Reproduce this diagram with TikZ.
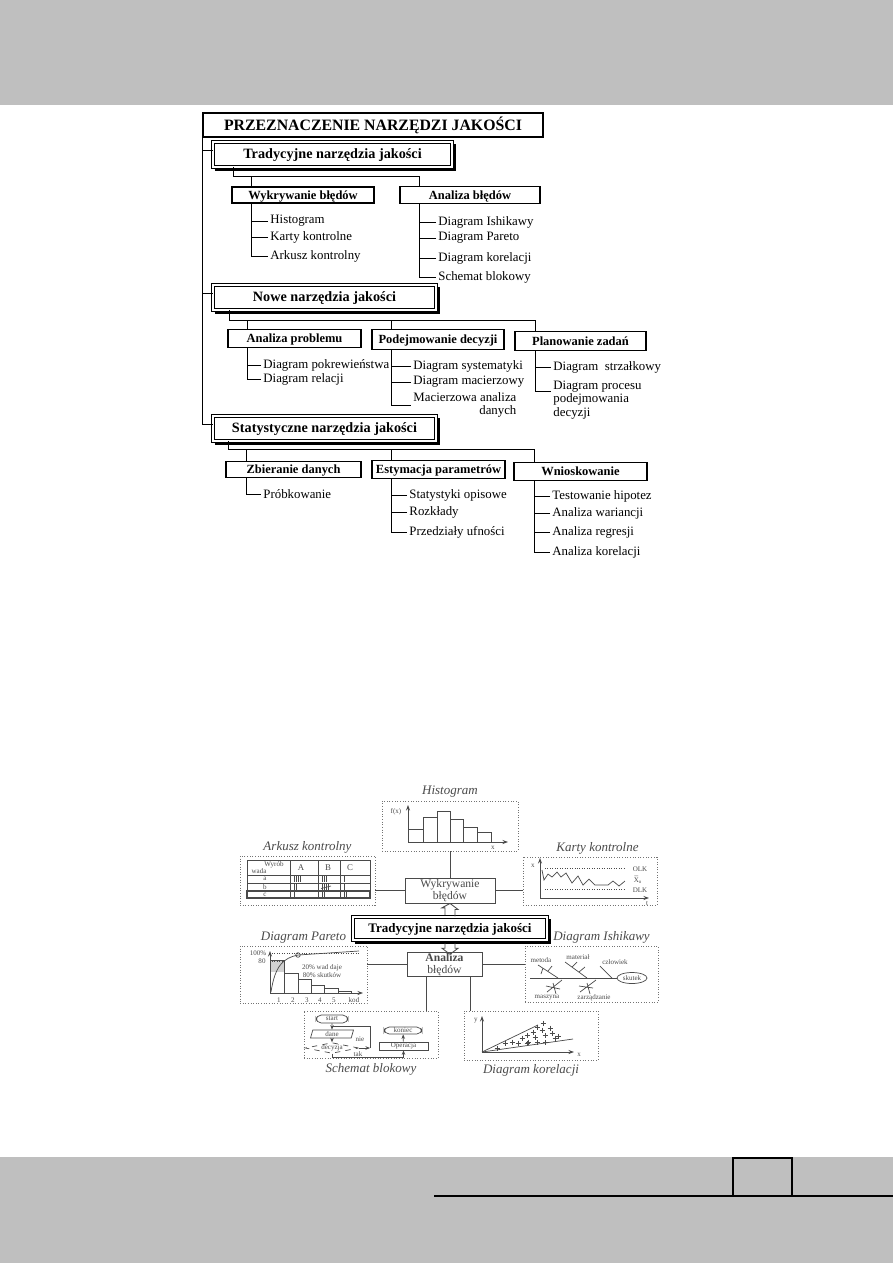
\documentclass[tikz,border=0pt]{standalone}
\usepackage{fontspec}
\setmainfont{Liberation Serif}
\usetikzlibrary{arrows.meta, positioning, calc, shapes.geometric}
\definecolor{bandgray}{HTML}{BFBFBF}
\definecolor{sketch}{HTML}{4A4A4A}
\tikzset{
  titlebox/.style={draw, line width=0.7pt, inner sep=0pt, minimum width=68mm, minimum height=4.8mm, text height=6.2pt, text depth=0.4pt, font=\bfseries\fontsize{9}{10}\selectfont},
  groupbox/.style={draw, double, double distance=1.1pt, line width=0.5pt, inner sep=0pt, minimum height=5mm, text height=5.6pt, text depth=0.5pt, font=\bfseries\fontsize{8.1}{9}\selectfont},
  shadowline/.style={line width=1.1pt},
  subbox/.style={draw, line width=0.6pt, inner sep=0pt, text height=4.9pt, text depth=0.3pt, font=\bfseries\fontsize{7.1}{8}\selectfont},
  leaf/.style={anchor=west, inner sep=1.2pt, font=\fontsize{7.3}{7.6}\selectfont},
  conn/.style={line width=0.5pt},
  toolbox/.style={draw=black!55, densely dotted, line width=0.5pt, inner sep=0pt},
  tooltitle/.style={font=\itshape\fontsize{7.4}{8}\selectfont, inner sep=0.5pt, text=sketch},
  centerbox/.style={draw=sketch, line width=0.5pt, inner sep=0pt, align=center, font=\fontsize{6.6}{6.8}\selectfont, text=sketch},
  minilbl/.style={font=\fontsize{4}{4.4}\selectfont, inner sep=0.3pt, text=sketch},
  sk/.style={line width=0.4pt, draw=sketch},
  axarr/.style={sk, -{Stealth[length=1.1mm, width=0.8mm]}},
  flbox/.style={draw=sketch, line width=0.4pt, inner sep=0pt, font=\fontsize{4}{4.4}\selectfont, text=sketch},
  flarr/.style={sk, -{Stealth[length=0.9mm, width=0.7mm]}},
}
\begin{document}
\begin{tikzpicture}[x=0.2mm, y=-0.2mm]
  \useasboundingbox (0,0) rectangle (893,1263);
  % page frame
  \fill[bandgray] (0,0) rectangle (893,105);
  \fill[bandgray] (0,1157) rectangle (893,1263);
  \draw[line width=0.8pt] (434,1196) -- (893,1196);
  \draw[line width=0.6pt] (733,1196) -- (733,1158) -- (792,1158) -- (792,1196);
  \draw[line width=1.4pt] (733,1158) -- (792,1158);

  % --- tree of tools ---
  \node[titlebox] (title) at (373,125) {PRZEZNACZENIE NARZĘDZI JAKOŚCI};
  \node[groupbox, minimum width=47.8mm] (trad) at (332.5,154.5) {Tradycyjne narzędzia jakości};
  \node[groupbox, minimum width=44.6mm] (nowe) at (324.5,297.5) {Nowe narzędzia jakości};
  \node[groupbox, minimum width=44.6mm] (stat) at (324.5,428.5) {Statystyczne narzędzia jakości};
  \node[groupbox, minimum width=38.8mm, minimum height=4.6mm, text height=5.2pt, text depth=0.5pt, font=\bfseries\fontsize{7.4}{8}\selectfont] (trad2) at (450,928.5) {Tradycyjne narzędzia jakości};
  \foreach \g in {trad,nowe,stat,trad2}
    \draw[shadowline] ([shift={(1.2pt,-1.5pt)}]\g.south west) -- ([shift={(1.5pt,-1.5pt)}]\g.south east) -- ([shift={(1.5pt,-1.2pt)}]\g.north east);

  \coordinate (brstat) at ([yshift=2.5pt]stat.west);
  \draw[conn] (title.south west) |- (brstat);
  \foreach \g in {trad,nowe} {
    \coordinate (br\g) at ([yshift=2.5pt]\g.west);
    \draw[conn] (br\g) -- (br\g -| title.west);
  }

  % traditional tools
  \node[subbox, minimum width=28.4mm, minimum height=3.2mm] (wyk) at (303,195) {Wykrywanie błędów};
  \node[subbox, minimum width=28mm, minimum height=3.4mm] (anb) at (470,195) {Analiza błędów};
  \coordinate (wykJ) at ([xshift=4mm]wyk.north west);
  \coordinate (anbJ) at ([xshift=4mm]anb.north west);
  \draw[conn] ([xshift=4.2mm]trad.south west) -- ++(0,9) coordinate (tradJ) -| (anbJ);
  \draw[conn] (wykJ |- tradJ) -- (wykJ);

  \node[leaf] (itHist) at (268,221) {Histogram};
  \node[leaf] (itKart) at (268,237) {Karty kontrolne};
  \node[leaf] (itArk) at (268,256) {Arkusz kontrolny};
  \draw[conn] (wykJ |- wyk.south) |- (itArk.west);
  \foreach \i in {itHist,itKart} \draw[conn] (\i.west) -- (\i.west -| wykJ);

  \node[leaf] (itIsh) at (436,222) {Diagram Ishikawy};
  \node[leaf] (itPar) at (436,238) {Diagram Pareto};
  \node[leaf] (itKor) at (436,258) {Diagram korelacji};
  \node[leaf] (itSch) at (436,277) {Schemat blokowy};
  \draw[conn] (anbJ |- anb.south) |- (itSch.west);
  \foreach \i in {itIsh,itPar,itKor} \draw[conn] (\i.west) -- (\i.west -| anbJ);

  % new tools
  \node[subbox, minimum width=26.6mm, minimum height=3.6mm] (anp) at (294.5,338.5) {Analiza problemu};
  \node[subbox, minimum width=26.4mm, minimum height=3.9mm] (pod) at (438,339.5) {Podejmowanie decyzji};
  \node[subbox, minimum width=26.2mm, minimum height=3.7mm] (plan) at (580.5,341) {Planowanie zadań};
  \coordinate (anpJ) at ([xshift=4mm]anp.north west);
  \coordinate (podJ) at ([xshift=4mm]pod.north west);
  \coordinate (planJ) at ([xshift=4.2mm]plan.north west);
  \draw[conn] ([xshift=3.4mm]nowe.south west) -- ++(0,10) coordinate (noweJ) -| (planJ);
  \foreach \j in {anpJ,podJ} \draw[conn] (\j |- noweJ) -- (\j);

  \node[leaf] (itPokr) at (261,365) {Diagram pokrewieństwa};
  \node[leaf] (itRel) at (261,379) {Diagram relacji};
  \draw[conn] (anpJ |- anp.south) |- (itRel.west);
  \draw[conn] (itPokr.west) -- (itPokr.west -| anpJ);

  \node[leaf] (itSys) at (411,366) {Diagram systematyki};
  \node[leaf] (itMac) at (411,382) {Diagram macierzowy};
  \node[leaf, align=right] (itMan) at (411,405) {Macierzowa analiza\\danych};
  \draw[conn] (podJ |- pod.south) |- (itMan.west);
  \foreach \i in {itSys,itMac} \draw[conn] (\i.west) -- (\i.west -| podJ);

  \node[leaf] (itStrz) at (551,367) {Diagram~~strzałkowy};
  \node[leaf, align=left] (itProc) at (551,400) {Diagram procesu\\podejmowania\\decyzji};
  \coordinate (procT) at ([yshift=5pt]itProc.west);
  \draw[conn] (planJ |- plan.south) |- (procT);
  \draw[conn] (itStrz.west) -- (itStrz.west -| planJ);

  % statistical tools
  \node[subbox, minimum width=27mm, minimum height=3.3mm] (zbi) at (293.5,469.5) {Zbieranie danych};
  \node[subbox, minimum width=26.6mm, minimum height=3.5mm] (est) at (438.5,469.5) {Estymacja parametrów};
  \node[subbox, minimum width=26.6mm, minimum height=3.5mm] (wni) at (580.5,471.5) {Wnioskowanie};
  \coordinate (zbiJ) at ([xshift=4.2mm]zbi.north west);
  \coordinate (estJ) at ([xshift=4mm]est.north west);
  \coordinate (wniJ) at ([xshift=4.2mm]wni.north west);
  \draw[conn] ([xshift=3.2mm]stat.south west) -- ++(0,8) coordinate (statJ) -| (wniJ);
  \foreach \j in {zbiJ,estJ} \draw[conn] (\j |- statJ) -- (\j);

  \node[leaf] (itProb) at (261,494) {Próbkowanie};
  \draw[conn] (zbiJ |- zbi.south) |- (itProb.west);

  \node[leaf] (itOpis) at (407,495) {Statystyki opisowe};
  \node[leaf] (itRozk) at (407,512) {Rozkłady};
  \node[leaf] (itPrzed) at (407,532) {Przedziały ufności};
  \draw[conn] (estJ |- est.south) |- (itPrzed.west);
  \foreach \i in {itOpis,itRozk} \draw[conn] (\i.west) -- (\i.west -| estJ);

  \node[leaf] (itTest) at (550,496) {Testowanie hipotez};
  \node[leaf] (itWar) at (550,513) {Analiza wariancji};
  \node[leaf] (itReg) at (550,532) {Analiza regresji};
  \node[leaf] (itKorel) at (550,552) {Analiza korelacji};
  \draw[conn] (wniJ |- wni.south) |- (itKorel.west);
  \foreach \i in {itTest,itWar,itReg} \draw[conn] (\i.west) -- (\i.west -| wniJ);

  % --- traditional tools in pictures ---
  \node[centerbox, minimum width=18mm, minimum height=5mm] (wykb) at (450,890.5) {Wykrywanie\\błędów};
  \node[centerbox, minimum width=15mm, minimum height=4.8mm] (anab) at (444.5,964.5) {\textbf{Analiza}\\błędów};

  \node[toolbox, minimum width=27.2mm, minimum height=10mm] (histo) at (450,826) {};
  \node[tooltitle, above=0.5mm of histo] (histoT) {Histogram};
  \node[toolbox, minimum width=27mm, minimum height=9.8mm] (ark) at (307.5,880.5) {};
  \node[tooltitle, above=0.3mm of ark] (arkT) {Arkusz kontrolny};
  \node[toolbox, minimum width=26.8mm, minimum height=9.6mm] (kart) at (590,881) {};
  \node[tooltitle, above=0.3mm of kart, xshift=1.5mm] (kartT) {Karty kontrolne};
  \node[toolbox, minimum width=25.4mm, minimum height=11.4mm] (par) at (303.5,974.5) {};
  \node[tooltitle, above=0.2mm of par] (parT) {Diagram Pareto};
  \node[toolbox, minimum width=26.6mm, minimum height=11.2mm] (ish) at (591.5,974) {};
  \node[tooltitle, above=0.2mm of ish, xshift=2mm] (ishT) {Diagram Ishikawy};
  \node[toolbox, minimum width=26.8mm, minimum height=9.4mm] (sch) at (371,1034.5) {};
  \node[tooltitle, below=0.8mm of sch] (schT) {Schemat blokowy};
  \node[toolbox, minimum width=26.8mm, minimum height=9.8mm] (kor) at (531,1035.5) {};
  \node[tooltitle, below=0.6mm of kor] (korT) {Diagram korelacji};

  \draw[sk] (histo.south) -- (wykb.north);
  \draw[sk] (wykb.west) -- (wykb.west -| ark.east);
  \draw[sk] (wykb.east) -- (wykb.east -| kart.west);
  \draw[sk] (anab.west) -- (anab.west -| par.east);
  \draw[sk] (anab.east) -- (anab.east -| ish.west);
  \coordinate (anS) at ([xshift=4mm]anab.south west);
  \coordinate (anK) at ([xshift=-2.4mm]anab.south east);
  \draw[sk] (anS) -- (anS |- sch.north);
  \draw[sk] (anK) -- (anK |- kor.north);

  % hollow arrows
  \draw[sk, line width=0.5pt] ([xshift=-1mm, yshift=1pt]trad2.north) -- ++(0,-7) -- ++(-3,0) -- (wykb.south) -- ++(8,6) -- ++(-3,0) -- ++(0,7);
  \draw[sk, line width=0.5pt] ([xshift=-1mm, yshift=-1.6pt]trad2.south) -- ++(0,5) -- ++(-3,0) -- ++(8,6) -- ++(8,-6) -- ++(-3,0) -- ++(0,-5);

  % histogram
  \draw[axarr] (408,842) -- (408,805);
  \draw[axarr] (408,842) -- (508,842);
  \foreach \a/\b/\t in {408/423/829, 423/437/817, 437/450/811, 450/463/819, 463/477/827, 477/491/832}
    \draw[sk] (\a,842) rectangle (\b,\t);
  \node[minilbl] (hF) at (396,812) {f(x)};
  \node[minilbl] (hX) at (493,848) {x};

  % check sheet
  \draw[sk] (247,860) rectangle (370,898);
  \foreach \y in {875,883,891} \draw[sk] (247,\y) -- (370,\y);
  \foreach \x in {290,318,340} \draw[sk] (\x,860) -- (\x,898);
  \draw[sk, line width=0.9pt] (247,891) rectangle (370,898);
  \node[minilbl] (aW) at (274,865) {Wyrób};
  \node[minilbl] (aD) at (259,871) {wada};
  \foreach \c/\cx in {A/301,B/328,C/350} \node[minilbl, font=\fontsize{5}{5}\selectfont] (a\c) at (\cx,868) {\c};
  \foreach \r/\ry in {a/879,b/887,c/895} \node[minilbl] (r\r) at (265,\ry) {\r};
  \foreach \cx/\cy/\n in {293/879/4, 321/879/3, 343/879/1, 293/887/2, 321/887/4, 343/887/1, 293/895/1, 321/895/2, 343/895/2}
    \foreach \k in {1,...,\n} \draw[sk, line width=0.5pt] (\cx+1.8*\k,\cy-2.6) -- ++(0,5.2);
  \draw[sk] (321,888.5) -- (331,886);

  % control chart
  \draw[axarr] (540,898) -- (540,858);
  \draw[axarr] (540,898) -- (649,898);
  \draw[sk, densely dotted] (545,868) -- (626,868);
  \draw[sk, densely dotted] (545,889) -- (626,889);
  \draw[sk] plot coordinates {(542,870) (544,880) (548,874) (552,877) (557,872) (561,877) (566,873) (572,883) (578,876) (583,885) (589,879) (595,885) (608,885) (613,881) (619,886) (625,881)};
  \node[minilbl] (kO) at (640,869) {OLK};
  \node[minilbl] (kX) at (638,880) {$\bar{\mathrm{X}}_{\mathrm{o}}$};
  \node[minilbl] (kD) at (640,890) {DLK};
  \node[minilbl] (kx) at (533,866) {x};
  \node[minilbl] (kt) at (647,904) {t};

  % Pareto
  \fill[black!18] (270,960) rectangle (284,972);
  \foreach \a/\b/\t in {270/284/960, 284/298/973, 298/311/979, 311/324/985, 324/338/988, 338/351/991}
    \draw[sk] (\a,993) rectangle (\b,\t);
  \draw[axarr] (270,993) -- (270,951);
  \draw[axarr] (270,993) -- (363,993);
  \draw[sk, densely dotted] (272,953) -- (359,953);
  \draw[sk, densely dotted] (272,961) -- (284,961);
  \draw[sk] (271,992) .. controls (275,966) and (283,958) .. (298,955) -- (359,951);
  \draw[sk] (298,955) circle[radius=1.3pt];
  \node[minilbl] (p100) at (258,953) {100\%};
  \node[minilbl] (p80) at (262,961) {80};
  \foreach \n/\px in {1/279,2/293,3/307,4/320,5/334} \node[minilbl] (pk\n) at (\px,1000) {\n};
  \node[minilbl] (pkod) at (354,1000) {kod};
  \node[minilbl, align=center] (pTxt) at (322,971) {20\% wad daje\\80\% skutków};

  % Ishikawa
  \node[flbox, ellipse, minimum width=6mm, minimum height=2.2mm] (skutek) at (632,978) {skutek};
  \coordinate (ishS) at (530,978);
  \draw[sk] (ishS) -- (skutek.west);
  \draw[sk] (538,965) -- (558,978) (543,968) -- (541,974) (548,971) -- (552,966);
  \draw[sk] (565,962) -- (587,978) (572,967) -- (577,962) (579,972) -- (585,967);
  \draw[sk] (600,966) -- (612,978);
  \draw[sk] (547,992) -- (562,980) (546,986) -- (560,989) (553,983) -- (556,994);
  \draw[sk] (580,992) -- (596,980) (579,986) -- (593,988) (587,983) -- (590,994);
  \node[minilbl] (iMet) at (541,960) {metoda};
  \node[minilbl] (iMat) at (578,957) {materiał};
  \node[minilbl] (iCzl) at (615,962) {człowiek};
  \node[minilbl] (iMas) at (547,998) {maszyna};
  \node[minilbl] (iZar) at (594,998) {zarządzanie};

  % flow chart
  \node[flbox, rounded corners=3pt, minimum width=6.4mm, minimum height=1.6mm] (fStart) at (332,1019) {start};
  \node[flbox, trapezium, trapezium left angle=65, trapezium right angle=115, trapezium stretches body, minimum width=8.6mm, minimum height=1.6mm] (fDane) at (332,1034) {dane};
  \node[flbox, diamond, aspect=5, dashed, minimum width=10mm, minimum height=2mm] (fDec) at (332,1048) {decyzja};
  \node[flbox, minimum width=9.8mm, minimum height=1.6mm] (fOp) at (403.5,1046) {Operacja};
  \node[flbox, rounded corners=3pt, minimum width=7.6mm, minimum height=1.4mm] (fEnd) at (403,1030.5) {koniec};
  \node[minilbl] (fNie) at (360,1039) {nie};
  \node[minilbl] (fTak) at (358,1054) {tak};
  \draw[flarr] (fStart) -- (fDane);
  \draw[flarr] (fDane) -- (fDec);
  \coordinate (fLoop) at (370,1026);
  \draw[flarr] (fDec.east) -- (fDec.east -| fLoop);
  \draw[sk] (fDec.east -| fLoop) -- (fLoop) -- (fLoop -| fStart.south);
  \draw[flarr] (fDec.south) -- ++(0,4) -| (fOp.south);
  \draw[flarr] (fOp) -- (fEnd);

  % correlation
  \draw[axarr] (482,1052) -- (482,1016);
  \draw[axarr] (482,1052) -- (574,1052);
  \draw[sk] (482,1052) -- (538,1025);
  \draw[sk] (482,1052) -- (573,1039);
  \foreach \px/\py in {497/1048, 505/1043, 512/1042, 518/1043, 522/1038, 527/1035, 528/1042, 533/1032, 535/1037, 537/1027, 542/1030, 543/1023, 545/1035, 550/1028, 552/1033, 555/1038, 558/1036, 537/1042, 545/1042, 527/1043}
    \draw[sk] (\px-2.5,\py) -- (\px+2.5,\py) (\px,\py-2.5) -- (\px,\py+2.5);
  \node[minilbl] (cY) at (476,1021) {y};
  \node[minilbl] (cX) at (579,1055) {x};
\end{tikzpicture}
\end{document}
